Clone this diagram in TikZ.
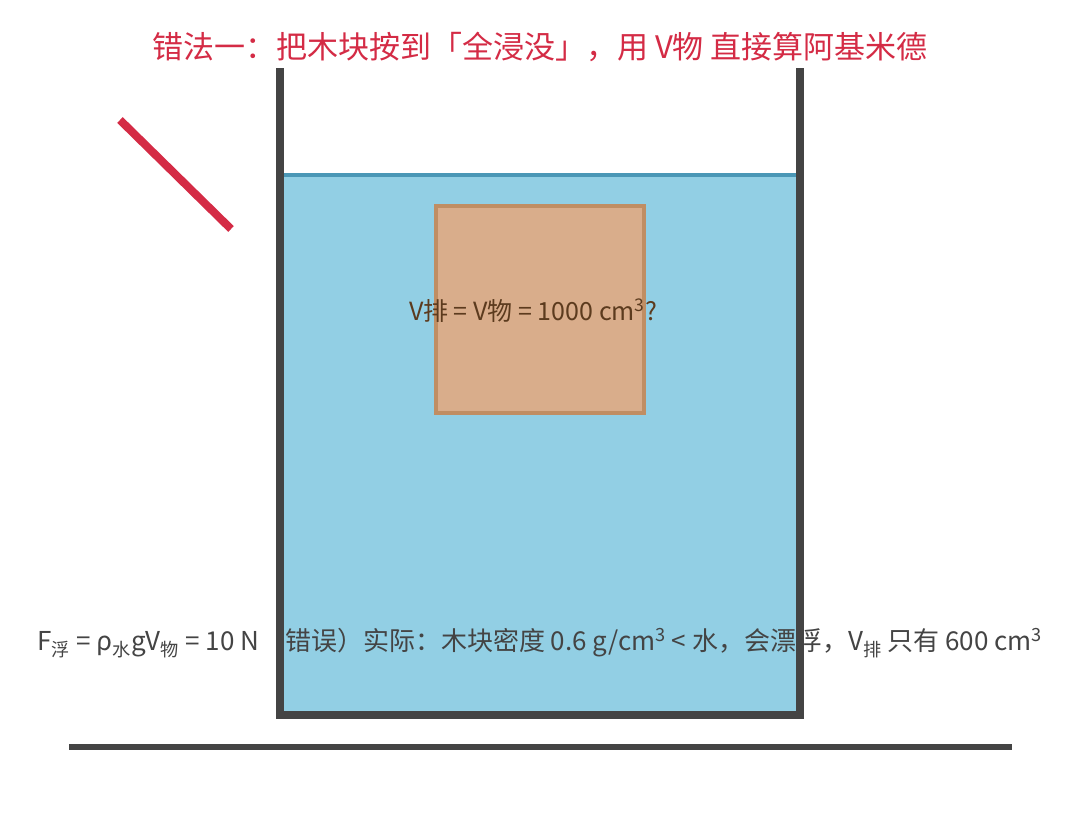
\documentclass[tikz,border=0pt]{standalone}
\usepackage{fontspec}
\setmainfont{Noto Sans CJK SC}
\definecolor{titlered}{HTML}{D42B45}
\definecolor{waterblue}{HTML}{92CFE4}
\definecolor{surfblue}{HTML}{4A97B6}
\definecolor{wallgray}{HTML}{444444}
\definecolor{woodfill}{HTML}{D9AD8B}
\definecolor{wooddraw}{HTML}{C08E63}
\definecolor{woodtext}{HTML}{5C3B1E}
\definecolor{textgray}{HTML}{444444}
\tikzset{
  wall/.style={draw=wallgray, line width=8pt, line join=miter},
  groundline/.style={draw=wallgray, line width=6pt},
  crossline/.style={draw=titlered, line width=8pt},
  waterbody/.style={fill=waterblue},
  surface/.style={draw=surfblue, line width=3.5pt},
  woodblock/.style={draw=wooddraw, fill=woodfill, line width=4pt, minimum width=208pt, minimum height=207pt, inner sep=0pt, outer sep=0pt},
  titletext/.style={text=titlered, font=\fontsize{31}{35}\selectfont, inner sep=0pt},
  blocktext/.style={text=woodtext, font=\fontsize{25}{29}\selectfont, inner sep=0pt},
  bottomtext/.style={text=textgray, font=\fontsize{26}{30}\selectfont, inner sep=0pt}
}
\newcommand{\lowtxt}[1]{\textsubscript{#1}}
\begin{document}
\begin{tikzpicture}[x=1pt,y=-1pt]
\useasboundingbox (0,0) rectangle (1080,819);
\fill[white] (0,0) rectangle (1080,819);
% water
\fill[waterbody] (284,175) rectangle (796,711);
\draw[surface] (284,175) -- (796,175);
% block
\node[woodblock] (block) at (540,309.5) {};
\node[blocktext] (blocklabel) at (533,311) {V排 = V物 = 1000 cm\textsuperscript{3}?};
% bottom text
\node[bottomtext] (formula) at (540,643) {F\lowtxt{浮} = ρ\lowtxt{水}gV\lowtxt{物} = 10 N（错误）实际：木块密度 0.6 g/cm\textsuperscript{3} < 水，会漂浮，V\lowtxt{排} 只有 600 cm\textsuperscript{3}};
% container walls
\coordinate (wlt) at (280,68);
\coordinate (wlb) at (280,715);
\coordinate (wrb) at (800,715);
\coordinate (wrt) at (800,68);
\draw[wall] (wlt) -- (wlb) -- (wrb) -- (wrt);
% ground
\coordinate (gl) at (69,747);
\coordinate (gr) at (1012,747);
\draw[groundline] (gl) -- (gr);
% red cross stroke
\coordinate (ra) at (120,120);
\coordinate (rb) at (231,229);
\draw[crossline] (ra) -- (rb);
% title
\node[titletext] (title) at (540,47) {错法一：把木块按到「全浸没」，用 V物 直接算阿基米德};
\end{tikzpicture}
\end{document}
